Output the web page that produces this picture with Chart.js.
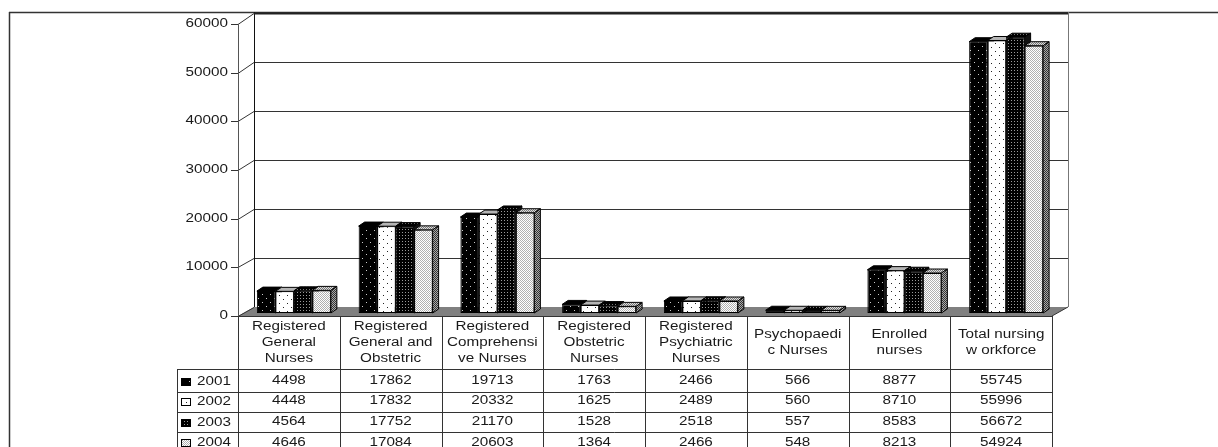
<!DOCTYPE html>
<html>
<head>
<meta charset="utf-8">
<title>Nursing workforce</title>
<script src="https://cdn.jsdelivr.net/npm/chart.js@4/dist/chart.umd.min.js"></script>
<style>
  html, body { margin: 0; padding: 0; background: #fff; overflow: hidden; }
  canvas { display: block; }
</style>
</head>
<body>
<canvas id="workforce-chart" width="1218" height="447"></canvas>
<script>
var categorias = [
  ['Registered', 'General', 'Nurses'],
  ['Registered', 'General and', 'Obstetric'],
  ['Registered', 'Comprehensi', 've Nurses'],
  ['Registered', 'Obstetric', 'Nurses'],
  ['Registered', 'Psychiatric', 'Nurses'],
  ['Psychopaedi', 'c Nurses'],
  ['Enrolled', 'nurses'],
  ['Total nursing', 'w orkforce']
];
var years = ['2001', '2002', '2003', '2004'];
var v2001 = [4498, 17862, 19713, 1763, 2466, 566, 8877, 55745];
var v2002 = [4448, 17832, 20332, 1625, 2489, 560, 8710, 55996];
var v2003 = [4564, 17752, 21170, 1528, 2518, 557, 8583, 56672];
var v2004 = [4646, 17084, 20603, 1364, 2466, 548, 8213, 54924];
var series = [v2001, v2002, v2003, v2004];

var DEPTH_X = 16, DEPTH_Y = 9;       // floor depth of the 3d box
var BAR_DX = 5, BAR_DY = -3;         // bars stand a little inside the floor
var SIDE_X = 6, SIDE_Y = 4;          // depth of each bar
var STRETCH = 1.22;                  // labels are set wide
var INK = '#1a1a1a';
var rowLines = [369, 392, 412, 432];
var rowText = [381, 401, 422, 443];
var legendText = [382, 402, 423, 443];

function makePattern(size, bg, fg, dots) {
  var c = document.createElement('canvas');
  c.width = c.height = size;
  var g = c.getContext('2d');
  g.fillStyle = bg;
  g.fillRect(0, 0, size, size);
  g.fillStyle = fg;
  dots.forEach(function (d) { g.fillRect(d[0], d[1], 1, 1); });
  return g.createPattern(c, 'repeat');
}

var fills = [
  makePattern(8, '#000', '#ccc', [[1, 1], [5, 5]]),
  makePattern(8, '#fff', '#222', [[2, 2], [6, 6]]),
  makePattern(3, '#000', '#999', [[1, 1]]),
  makePattern(2, '#fff', '#b0b0b0', [[0, 0], [1, 1]])
];
var tops = ['#000', '#b5b5b5', makePattern(3, '#000', '#777', [[1, 1]]), makePattern(2, '#ddd', '#777', [[0, 0], [1, 1]])];
var sides = ['#000', '#777', '#111', makePattern(2, '#aaa', '#333', [[0, 0], [1, 1]])];

// text helper, same font everywhere but stretched horizontally
function wideText(ctx, text, x, y, align) {
  ctx.save();
  ctx.font = '12.5px "Liberation Sans", Arial, sans-serif';
  ctx.fillStyle = INK;
  ctx.textBaseline = 'middle';
  ctx.textAlign = align;
  ctx.translate(x, y);
  ctx.scale(STRETCH, 1);
  ctx.fillText(text, 0, 0);
  ctx.restore();
}

function line(ctx, x1, y1, x2, y2) {
  ctx.beginPath();
  ctx.moveTo(x1, y1);
  ctx.lineTo(x2, y2);
  ctx.stroke();
}

var boxPlugin = {
  id: 'box3d',
  beforeDatasetsDraw: function (chart) {
    var ctx = chart.ctx, a = chart.chartArea, y = chart.scales.y;
    var backL = a.left + DEPTH_X, backR = a.right + DEPTH_X;

    ctx.save();
    // outer frame
    ctx.strokeStyle = '#333';
    ctx.lineWidth = 1.5;
    line(ctx, 9.5, 447, 9.5, 12);
    line(ctx, 9, 12.5, 1218, 12.5);

    // floor
    ctx.fillStyle = '#808080';
    ctx.beginPath();
    ctx.moveTo(a.left, a.bottom);
    ctx.lineTo(backL, a.bottom - DEPTH_Y);
    ctx.lineTo(backR, a.bottom - DEPTH_Y);
    ctx.lineTo(a.right, a.bottom);
    ctx.closePath();
    ctx.fill();

    // walls and grid, one line per y tick
    ctx.lineWidth = 1;
    ctx.strokeStyle = '#333';
    y.ticks.forEach(function (t) {
      var exact = y.getPixelForValue(t.value);
      var py = Math.round(exact) + 0.5;
      var by = Math.round(exact - DEPTH_Y - t.value / 30000) + 0.5;
      line(ctx, a.left - 7, py, a.left, py);
      line(ctx, a.left, py, backL, by);
      if (t.value > 0) line(ctx, backL, by, backR, by);
      wideText(ctx, String(t.value), a.left - 10, py - 0.5, 'right');
    });
    ctx.strokeStyle = '#555';
    line(ctx, a.left + 0.5, a.top, a.left + 0.5, a.bottom);
    ctx.strokeStyle = '#111';
    line(ctx, backL + 0.5, 12, backL + 0.5, a.bottom - DEPTH_Y);
    ctx.strokeStyle = '#777';
    line(ctx, backR + 0.5, 12, backR + 0.5, a.bottom - DEPTH_Y);
    ctx.strokeStyle = '#333';
    line(ctx, backR, a.bottom - DEPTH_Y, a.right, a.bottom);
    ctx.strokeStyle = '#222';
    ctx.lineWidth = 2;
    line(ctx, backL, 13.5, backR, 13.5);
    ctx.restore();

    // bars are shifted back onto the floor
    ctx.save();
    ctx.translate(BAR_DX, BAR_DY);

    // top and side faces go first, the front faces then cover what is hidden
    ctx.save();
    ctx.lineWidth = 1;
    ctx.strokeStyle = '#000';
    years.forEach(function (yr, i) {
      chart.getDatasetMeta(i).data.forEach(function (bar) {
        var l = bar.x - bar.width / 2, r = bar.x + bar.width / 2;
        ctx.fillStyle = tops[i];
        ctx.beginPath();
        ctx.moveTo(l, bar.y);
        ctx.lineTo(l + SIDE_X, bar.y - SIDE_Y);
        ctx.lineTo(r + SIDE_X, bar.y - SIDE_Y);
        ctx.lineTo(r, bar.y);
        ctx.closePath();
        ctx.fill();
        ctx.stroke();
        ctx.fillStyle = sides[i];
        ctx.beginPath();
        ctx.moveTo(r, bar.y);
        ctx.lineTo(r + SIDE_X, bar.y - SIDE_Y);
        ctx.lineTo(r + SIDE_X, bar.base - SIDE_Y);
        ctx.lineTo(r, bar.base);
        ctx.closePath();
        ctx.fill();
        ctx.stroke();
      });
    });
    ctx.restore();
  },
  afterDatasetsDraw: function (chart) {
    var ctx = chart.ctx, a = chart.chartArea, x = chart.scales.x;
    var band = (a.right - a.left) / categorias.length;
    ctx.restore();

    // data table under the axis
    ctx.save();
    ctx.lineWidth = 1;
    ctx.strokeStyle = '#333';
    line(ctx, a.left, a.bottom + 0.5, a.right, a.bottom + 0.5);
    for (var c = 0; c <= categorias.length; c++) {
      var vx = Math.round(a.left + band * c) + 0.5;
      line(ctx, vx, a.bottom, vx, 447);
    }
    line(ctx, 177.5, rowLines[0], 177.5, 447);
    rowLines.forEach(function (ry) {
      line(ctx, 177.5, ry + 0.5, a.right, ry + 0.5);
    });

    // category names
    categorias.forEach(function (lines, c) {
      var cx = x.getPixelForTick(c);
      var start = 342.5 - (lines.length - 1) * 8;
      lines.forEach(function (txt, n) {
        wideText(ctx, txt, cx, start + n * 16, 'center');
      });
    });

    // legend key and values per row
    years.forEach(function (yr, r) {
      ctx.fillStyle = fills[r];
      ctx.fillRect(181.5, legendText[r] - 3.5, 9, 7);
      ctx.strokeStyle = '#000';
      ctx.strokeRect(181.5, legendText[r] - 3.5, 9, 7);
      wideText(ctx, yr, 197, legendText[r], 'left');
      series[r].forEach(function (val, c) {
        wideText(ctx, String(val), x.getPixelForTick(c), rowText[r], 'center');
      });
    });
    ctx.restore();
  }
};

new Chart(document.getElementById('workforce-chart').getContext('2d'), {
  type: 'bar',
  data: {
    labels: categorias,
    datasets: years.map(function (yr, i) {
      return {
        label: yr,
        data: series[i],
        backgroundColor: fills[i],
        borderColor: '#000',
        borderWidth: 1,
        borderSkipped: false,
        clip: false
      };
    })
  },
  options: {
    responsive: false,
    animation: false,
    categoryPercentage: 0.727,
    barPercentage: 1,
    layout: { padding: { left: 238, right: 166, top: 24, bottom: 131 } },
    plugins: { legend: { display: false }, tooltip: { enabled: false } },
    scales: {
      x: {
        grid: { display: false },
        border: { display: false },
        ticks: { display: false },
        afterFit: function (scale) { scale.height = 0; }
      },
      y: {
        min: 0,
        max: 60000,
        grid: { display: false },
        border: { display: false },
        ticks: { display: false, stepSize: 10000 },
        afterFit: function (scale) { scale.width = 0; }
      }
    }
  },
  plugins: [boxPlugin]
});
</script>
</body>
</html>
